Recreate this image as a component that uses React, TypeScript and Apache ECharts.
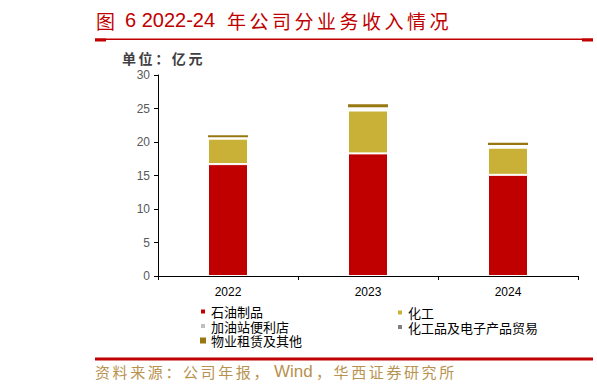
import React, { useEffect, useRef } from "react";
import * as echarts from "echarts";

const categories = ["2022", "2023", "2024"];
const petroleum = [16.7, 18.3, 15.1];
const chemical = [3.8, 6.4, 4.05];
const gasStation = [0.1, 0.25, 0.2];
const trade = [0.1, 0.25, 0.2];
const property = [0.3, 0.45, 0.35];
const yTicks = [0, 5, 10, 15, 20, 25, 30];

const seriesNames = ["石油制品", "化工", "加油站便利店", "化工品及电子产品贸易", "物业租赁及其他"];
const seriesColors = ["#c00000", "#c9b037", "#bfbfbf", "#7f7f7f", "#977810"];

const FONT = "'Noto Sans CJK SC', sans-serif";
const LATIN = "'Liberation Sans', Arial, sans-serif";

function spaced(text: string, x: number, y: number, adv: number, fontSize: number, fill: string, fontWeight = "normal") {
  return Array.from(text).map((ch, i) => ({
    type: "text",
    x: x + i * adv,
    y,
    style: { text: ch, fill, fontSize, fontFamily: FONT, fontWeight, textVerticalAlign: "middle" },
  }));
}

export default function App() {
  const ref = useRef<HTMLDivElement>(null);
  useEffect(() => {
    if (!ref.current) return;
    const chart = echarts.init(ref.current, null, { renderer: "svg" });
    const dataSets = [petroleum, chemical, gasStation, trade, property];
    const series = dataSets.map((d, i) => ({
      name: seriesNames[i],
      type: "bar",
      stack: "total",
      barWidth: 40,
      data: d,
      itemStyle: {
        color: seriesColors[i],
        borderColor: "#ffffff",
        borderWidth: i === 4 ? 0 : 1,
      },
    }));
    const titleRed = "#c00000";
    const tan = "#b8924f";
    const legendText = { fontSize: 13, lineHeight: 13, color: "#000", fontFamily: FONT };
    chart.setOption({
      animation: false,
      backgroundColor: "#ffffff",
      grid: { left: 158, right: 19, top: 75, bottom: 116, containLabel: false },
      xAxis: {
        type: "category",
        data: categories,
        axisLine: { lineStyle: { color: "#000000", width: 1 } },
        axisTick: { show: true, alignWithLabel: false, length: 4, lineStyle: { color: "#000" } },
        axisLabel: { color: "#000000", fontSize: 12, fontFamily: LATIN, margin: 10 },
      },
      yAxis: {
        type: "value",
        min: yTicks[0],
        max: yTicks[yTicks.length - 1],
        interval: 5,
        splitLine: { show: false },
        axisLine: { show: true, lineStyle: { color: "#000000", width: 1 } },
        axisTick: { show: true, length: 4, lineStyle: { color: "#000" } },
        axisLabel: { color: "#595959", fontSize: 12, fontFamily: LATIN, margin: 8 },
      },
      legend: [
        {
          data: [seriesNames[0], seriesNames[2], seriesNames[4]],
          orient: "vertical",
          left: 199,
          top: 305,
          itemWidth: 6,
          itemHeight: 6,
          itemGap: 1.5,
          icon: "rect",
          textStyle: legendText,
          padding: 0,
        },
        {
          data: [seriesNames[1], seriesNames[3]],
          orient: "vertical",
          left: 396,
          top: 306,
          itemWidth: 6,
          itemHeight: 6,
          itemGap: 1.5,
          icon: "rect",
          textStyle: legendText,
          padding: 0,
        },
      ],
      series,
      graphic: [
        ...spaced("图", 96, 20, 20, 19, titleRed),
        {
          type: "text",
          x: 125,
          y: 20,
          style: { text: "6 2022-24", fill: titleRed, fontSize: 20, fontFamily: LATIN, textVerticalAlign: "middle" },
        },
        ...spaced("年公司分业务收入情况", 227, 20, 22.5, 19, titleRed),
        { type: "rect", shape: { x: 95, y: 38.5, width: 498, height: 1.5 }, style: { fill: titleRed } },
        { type: "rect", shape: { x: 95, y: 38.5, width: 11, height: 3 }, style: { fill: titleRed } },
        { type: "rect", shape: { x: 582, y: 38.5, width: 11, height: 3 }, style: { fill: titleRed } },
        ...spaced("单位：亿元", 122, 58, 16.6, 14, "#404040", "bold"),
        { type: "rect", shape: { x: 95, y: 357.5, width: 498, height: 3 }, style: { fill: titleRed } },
        ...spaced("资料来源：公司年报，", 95, 371, 17.6, 15, tan),
        {
          type: "text",
          x: 274,
          y: 371,
          style: { text: "Wind", fill: tan, fontSize: 17, fontFamily: LATIN, textVerticalAlign: "middle" },
        },
        ...spaced("，华西证券研究所", 316, 371, 17.6, 15, tan),
      ],
    });
    return () => chart.dispose();
  }, []);
  return <div ref={ref} style={{ width: 597, height: 392, position: "absolute", left: 0, top: 0 }} />;
}
